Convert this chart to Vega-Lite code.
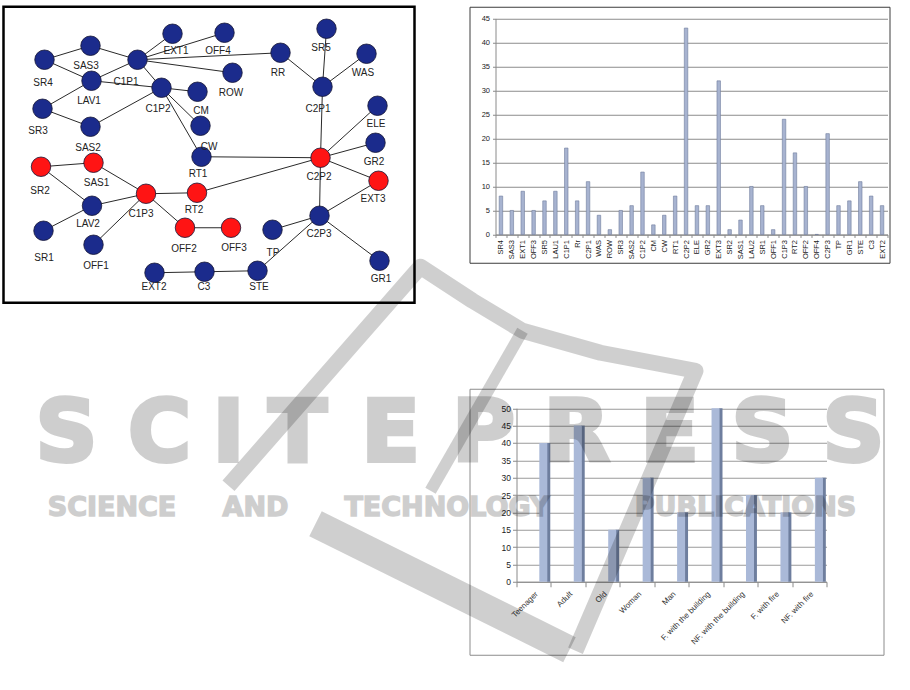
{
  "$schema": "https://vega.github.io/schema/vega-lite/v6.json",
  "background": "white",
  "padding": {"left": 1.5, "top": 4.75, "right": 0, "bottom": 0},
  "bounds": "flush",
  "spacing": 55,
  "config": {
    "font": "Liberation Sans",
    "view": {"stroke": null},
    "axis": {"labelFont": "Liberation Sans"}
  },
  "datasets": {
    "nodes": [
      {"id": "SR4", "x": 41, "y": 53, "lx": 39.5, "ly": 76, "route": "other"},
      {"id": "SAS3", "x": 87, "y": 39, "lx": 82.5, "ly": 59, "route": "other"},
      {"id": "C1P1", "x": 134, "y": 53, "lx": 122.5, "ly": 75, "route": "other"},
      {"id": "EXT1", "x": 169, "y": 27, "lx": 172.5, "ly": 44, "route": "other"},
      {"id": "OFF4", "x": 221, "y": 26, "lx": 214.5, "ly": 44, "route": "other"},
      {"id": "RR", "x": 277, "y": 46, "lx": 274.5, "ly": 66, "route": "other"},
      {"id": "SR5", "x": 323, "y": 22, "lx": 317.5, "ly": 41, "route": "other"},
      {"id": "WAS", "x": 363, "y": 47, "lx": 359.5, "ly": 66, "route": "other"},
      {"id": "C2P1", "x": 319, "y": 80, "lx": 314.5, "ly": 102, "route": "other"},
      {"id": "ROW", "x": 229, "y": 66, "lx": 227.5, "ly": 86, "route": "other"},
      {"id": "LAV1", "x": 88, "y": 74, "lx": 85.5, "ly": 94, "route": "other"},
      {"id": "C1P2", "x": 158, "y": 81, "lx": 154.5, "ly": 102, "route": "other"},
      {"id": "CM", "x": 194, "y": 85, "lx": 197.5, "ly": 104, "route": "other"},
      {"id": "SR3", "x": 39, "y": 102, "lx": 34.5, "ly": 124, "route": "other"},
      {"id": "SAS2", "x": 87, "y": 120, "lx": 84.5, "ly": 141, "route": "other"},
      {"id": "CW", "x": 197, "y": 119, "lx": 205.5, "ly": 140, "route": "other"},
      {"id": "ELE", "x": 374, "y": 99, "lx": 372.5, "ly": 117, "route": "other"},
      {"id": "GR2", "x": 372, "y": 136, "lx": 370.5, "ly": 155, "route": "other"},
      {"id": "RT1", "x": 198, "y": 150, "lx": 194.5, "ly": 167, "route": "other"},
      {"id": "C2P2", "x": 317, "y": 151, "lx": 315.5, "ly": 170, "route": "evacuation"},
      {"id": "EXT3", "x": 375, "y": 174, "lx": 369.5, "ly": 192, "route": "evacuation"},
      {"id": "SR2", "x": 37.5, "y": 160, "lx": 36.5, "ly": 184, "route": "evacuation"},
      {"id": "SAS1", "x": 90, "y": 156, "lx": 93, "ly": 176, "route": "evacuation"},
      {"id": "C1P3", "x": 142.5, "y": 187, "lx": 137.5, "ly": 207, "route": "evacuation"},
      {"id": "RT2", "x": 193.5, "y": 186, "lx": 190.5, "ly": 203, "route": "evacuation"},
      {"id": "LAV2", "x": 88.5, "y": 199, "lx": 84.5, "ly": 217, "route": "other"},
      {"id": "OFF2", "x": 181.5, "y": 221, "lx": 180.5, "ly": 242, "route": "evacuation"},
      {"id": "OFF3", "x": 227.5, "y": 221, "lx": 230.5, "ly": 241, "route": "evacuation"},
      {"id": "C2P3", "x": 316, "y": 209, "lx": 315.5, "ly": 227, "route": "other"},
      {"id": "TP", "x": 269, "y": 223, "lx": 269.5, "ly": 246, "route": "other"},
      {"id": "SR1", "x": 40, "y": 224, "lx": 40.5, "ly": 251, "route": "other"},
      {"id": "OFF1", "x": 90, "y": 238, "lx": 92.5, "ly": 259, "route": "other"},
      {"id": "GR1", "x": 376, "y": 254, "lx": 377.5, "ly": 272, "route": "other"},
      {"id": "EXT2", "x": 151, "y": 266, "lx": 150.5, "ly": 280, "route": "other"},
      {"id": "C3", "x": 201, "y": 265, "lx": 200.5, "ly": 280, "route": "other"},
      {"id": "STE", "x": 254, "y": 264, "lx": 255.5, "ly": 280, "route": "other"}
    ],
    "edges": [
      {"a": "SR4", "b": "SAS3"}, {"a": "SAS3", "b": "C1P1"}, {"a": "SR4", "b": "LAV1"},
      {"a": "C1P1", "b": "LAV1"}, {"a": "C1P1", "b": "EXT1"}, {"a": "C1P1", "b": "OFF4"},
      {"a": "C1P1", "b": "RR"}, {"a": "C1P1", "b": "ROW"}, {"a": "C1P1", "b": "C1P2"},
      {"a": "LAV1", "b": "C1P2"}, {"a": "LAV1", "b": "SR3"}, {"a": "SR3", "b": "SAS2"},
      {"a": "SAS2", "b": "C1P2"}, {"a": "C1P2", "b": "CM"}, {"a": "C1P2", "b": "CW"},
      {"a": "C1P2", "b": "RT1"}, {"a": "RT1", "b": "C2P2"}, {"a": "RR", "b": "C2P1"},
      {"a": "SR5", "b": "C2P1"}, {"a": "WAS", "b": "C2P1"}, {"a": "C2P1", "b": "C2P2"},
      {"a": "C2P2", "b": "ELE"}, {"a": "C2P2", "b": "GR2"}, {"a": "C2P2", "b": "EXT3"},
      {"a": "C2P2", "b": "RT2"}, {"a": "C2P2", "b": "C2P3"}, {"a": "EXT3", "b": "C2P3"},
      {"a": "C2P3", "b": "TP"}, {"a": "C2P3", "b": "GR1"}, {"a": "C2P3", "b": "STE"},
      {"a": "STE", "b": "C3"}, {"a": "C3", "b": "EXT2"}, {"a": "SR2", "b": "SAS1"},
      {"a": "SR2", "b": "LAV2"}, {"a": "SAS1", "b": "C1P3"}, {"a": "LAV2", "b": "C1P3"},
      {"a": "SR1", "b": "LAV2"}, {"a": "OFF1", "b": "C1P3"}, {"a": "C1P3", "b": "RT2"},
      {"a": "C1P3", "b": "OFF2"}, {"a": "OFF2", "b": "OFF3"}
    ],
    "logo": [
      {"part": "outline", "i": 0, "x": -241, "y": 97}, {"part": "outline", "i": 1, "x": -49, "y": -122},
      {"part": "outline", "i": 2, "x": 3, "y": -88}, {"part": "outline", "i": 3, "x": 53, "y": -58},
      {"part": "outline", "i": 4, "x": 131, "y": -36}, {"part": "outline", "i": 5, "x": 226, "y": -18},
      {"part": "outline", "i": 6, "x": 106, "y": 262},
      {"part": "vein", "i": 0, "x": 53, "y": -58}, {"part": "vein", "i": 1, "x": -39, "y": 102},
      {"part": "arm", "i": 0, "x": -154, "y": 135}, {"part": "arm", "i": 1, "x": 100, "y": 261}
    ],
    "letters": [
      {"ch": "S", "x": -403, "y": 72}, {"ch": "C", "x": -310, "y": 72},
      {"ch": "I", "x": -241, "y": 72}, {"ch": "T", "x": -172, "y": 72},
      {"ch": "E", "x": -79, "y": 72}, {"ch": "P", "x": 14, "y": 72},
      {"ch": "R", "x": 107, "y": 72}, {"ch": "E", "x": 200, "y": 72},
      {"ch": "S", "x": 293, "y": 72}, {"ch": "S", "x": 384, "y": 72}
    ],
    "words": [
      {"w": "SCIENCE", "x": -357.5, "y": 127}, {"w": "AND", "x": -214, "y": 127},
      {"w": "TECHNOLOGY", "x": -22.5, "y": 127}, {"w": "PUBLICATIONS", "x": 276, "y": 127}
    ],
    "degree": [
      {"node": "SR4", "links": 8}, {"node": "SAS3", "links": 5}, {"node": "EXT1", "links": 9},
      {"node": "OFF3", "links": 5}, {"node": "SR5", "links": 7}, {"node": "LAU1", "links": 9},
      {"node": "C1P1", "links": 18}, {"node": "Rr", "links": 7}, {"node": "C2P1", "links": 11},
      {"node": "WAS", "links": 4}, {"node": "ROW", "links": 1}, {"node": "SR3", "links": 5},
      {"node": "SAS2", "links": 6}, {"node": "C1P2", "links": 13}, {"node": "CM", "links": 2},
      {"node": "CW", "links": 4}, {"node": "RT1", "links": 8}, {"node": "C2P2", "links": 43},
      {"node": "ELE", "links": 6}, {"node": "GR2", "links": 6}, {"node": "EXT3", "links": 32},
      {"node": "SR2", "links": 1}, {"node": "SAS1", "links": 3}, {"node": "LAU2", "links": 10},
      {"node": "SR1", "links": 6}, {"node": "OFF1", "links": 1}, {"node": "C1P3", "links": 24},
      {"node": "RT2", "links": 17}, {"node": "OFF2", "links": 10}, {"node": "OFF4", "links": 0},
      {"node": "C2P3", "links": 21}, {"node": "TP", "links": 6}, {"node": "GR1", "links": 7},
      {"node": "STE", "links": 11}, {"node": "C3", "links": 8}, {"node": "EXT2", "links": 6}
    ],
    "evac": [
      {"category": "Teenager", "value": 40}, {"category": "Adult", "value": 45},
      {"category": "Old", "value": 15}, {"category": "Woman", "value": 30},
      {"category": "Man", "value": 20}, {"category": "F. with the building", "value": 50},
      {"category": "NF. with the building", "value": 25}, {"category": "F. with fire", "value": 20},
      {"category": "NF. with fire", "value": 30}
    ]
  },
  "hconcat": [
    {
      "width": 411,
      "height": 296,
      "view": {"stroke": "#000000", "strokeWidth": 2.5},
      "layer": [
        {
          "data": {"name": "edges"},
          "transform": [
            {"lookup": "a", "from": {"data": {"name": "nodes"}, "key": "id", "fields": ["x", "y"]}, "as": ["ax", "ay"]},
            {"lookup": "b", "from": {"data": {"name": "nodes"}, "key": "id", "fields": ["x", "y"]}, "as": ["bx", "by"]}
          ],
          "mark": {"type": "rule", "color": "#2a2a2a", "strokeWidth": 1},
          "encoding": {
            "x": {"field": "ax", "type": "quantitative", "scale": {"domain": [0, 411], "nice": false, "zero": false}, "axis": null},
            "y": {"field": "ay", "type": "quantitative", "scale": {"domain": [0, 296], "nice": false, "zero": false, "reverse": true}, "axis": null},
            "x2": {"field": "bx"},
            "y2": {"field": "by"}
          }
        },
        {
          "data": {"name": "nodes"},
          "mark": {"type": "point", "filled": true, "size": 380, "opacity": 1, "stroke": "#141433", "strokeWidth": 0.8},
          "encoding": {
            "x": {"field": "x", "type": "quantitative", "scale": {"domain": [0, 411], "nice": false, "zero": false}, "axis": null},
            "y": {"field": "y", "type": "quantitative", "scale": {"domain": [0, 296], "nice": false, "zero": false, "reverse": true}, "axis": null},
            "color": {"field": "route", "type": "nominal", "scale": {"domain": ["other", "evacuation"], "range": ["#1b2b8c", "#ff1414"]}, "legend": null}
          }
        },
        {
          "data": {"name": "nodes"},
          "mark": {"type": "text", "fontSize": 10, "color": "#222222", "font": "Liberation Sans", "align": "center", "baseline": "middle"},
          "encoding": {
            "x": {"field": "lx", "type": "quantitative", "scale": {"domain": [0, 411], "nice": false, "zero": false}, "axis": null},
            "y": {"field": "ly", "type": "quantitative", "scale": {"domain": [0, 296], "nice": false, "zero": false, "reverse": true}, "axis": null},
            "text": {"field": "id"}
          }
        }
      ]
    },
    {
      "bounds": "flush",
      "spacing": 126,
      "vconcat": [
        {
          "width": 420,
          "height": 256,
          "view": {"stroke": "#3c3c3c", "strokeWidth": 1},
          "data": {"name": "degree"},
          "mark": {"type": "bar", "size": 3.5, "color": "#a7b3d0", "stroke": "#6f7c9c", "strokeWidth": 0.6},
          "encoding": {
            "x": {
              "field": "node", "type": "nominal", "sort": null,
              "scale": {"range": [26, 418], "paddingInner": 0, "paddingOuter": 0},
              "axis": {"title": null, "orient": "bottom", "offset": -28.3, "labelAngle": -90, "labelFontSize": 7.5, "labelColor": "#222222", "labelPadding": 2, "tickBand": "extent", "tickSize": 3, "tickColor": "#8a8a8a", "domainColor": "#8a8a8a", "grid": false}
            },
            "y": {
              "field": "links", "type": "quantitative",
              "scale": {"domain": [0, 45], "range": [227.7, 11.7], "nice": false, "zero": true},
              "axis": {"title": null, "orient": "left", "offset": -26, "values": [0, 5, 10, 15, 20, 25, 30, 35, 40, 45], "labelFontSize": 7.5, "labelColor": "#222222", "labelPadding": 3, "tickSize": 3, "tickColor": "#8a8a8a", "domainColor": "#8a8a8a", "grid": true, "gridColor": "#8c8c8c", "gridWidth": 1}
            }
          }
        },
        {
          "width": 414,
          "height": 266,
          "view": {"stroke": "#8c8c8c", "strokeWidth": 1},
          "resolve": {"scale": {"x": "independent", "y": "independent"}},
          "layer": [
            {
              "data": {"name": "evac"},
              "encoding": {
                "x": {
                  "field": "category", "type": "nominal", "sort": null,
                  "scale": {"range": [47, 357], "paddingInner": 0, "paddingOuter": 0},
                  "axis": {"title": null, "orient": "bottom", "offset": -73, "labelAngle": -45, "labelFontSize": 8, "labelColor": "#333333", "labelPadding": 3, "tickBand": "extent", "tickSize": 5, "tickColor": "#8a8a8a", "domainColor": "#8a8a8a", "grid": false}
                },
                "y": {
                  "field": "value", "type": "quantitative",
                  "scale": {"domain": [0, 50], "range": [193, 19.5], "nice": false, "zero": true},
                  "axis": {"title": null, "orient": "left", "offset": -47, "values": [0, 5, 10, 15, 20, 25, 30, 35, 40, 45, 50], "labelFontSize": 8.5, "labelColor": "#222222", "labelPadding": 2, "tickSize": 4, "tickColor": "#8a8a8a", "domainColor": "#8a8a8a", "grid": true, "gridColor": "#9a9a9a", "gridWidth": 1}
                }
              },
              "layer": [
                {"mark": {"type": "bar", "size": 3.5, "color": "#6e7e9e", "xOffset": 14.8}},
                {"mark": {"type": "bar", "size": 8, "color": "#aab9d8", "xOffset": 9.6}}
              ]
            },
            {
              "layer": [
                {
                  "data": {"name": "logo"},
                  "transform": [{"filter": "datum.part == 'outline'"}],
                  "mark": {"type": "line", "color": "#000000", "opacity": 0.19, "strokeWidth": 16, "strokeCap": "butt", "strokeJoin": "round"},
                  "encoding": {
                    "x": {"field": "x", "type": "quantitative", "scale": {"domain": [0, 414], "nice": false, "zero": false}, "axis": null},
                    "y": {"field": "y", "type": "quantitative", "scale": {"domain": [0, 266], "nice": false, "zero": false, "reverse": true}, "axis": null},
                    "order": {"field": "i"}
                  }
                },
                {
                  "data": {"name": "logo"},
                  "transform": [{"filter": "datum.part == 'vein'"}],
                  "mark": {"type": "line", "color": "#000000", "opacity": 0.19, "strokeWidth": 12, "strokeCap": "butt"},
                  "encoding": {
                    "x": {"field": "x", "type": "quantitative", "scale": {"domain": [0, 414], "nice": false, "zero": false}, "axis": null},
                    "y": {"field": "y", "type": "quantitative", "scale": {"domain": [0, 266], "nice": false, "zero": false, "reverse": true}, "axis": null},
                    "order": {"field": "i"}
                  }
                },
                {
                  "data": {"name": "logo"},
                  "transform": [{"filter": "datum.part == 'arm'"}],
                  "mark": {"type": "line", "color": "#000000", "opacity": 0.19, "strokeWidth": 28, "strokeCap": "butt"},
                  "encoding": {
                    "x": {"field": "x", "type": "quantitative", "scale": {"domain": [0, 414], "nice": false, "zero": false}, "axis": null},
                    "y": {"field": "y", "type": "quantitative", "scale": {"domain": [0, 266], "nice": false, "zero": false, "reverse": true}, "axis": null},
                    "order": {"field": "i"}
                  }
                },
                {
                  "data": {"name": "letters"},
                  "mark": {"type": "text", "font": "DejaVu Sans", "fontWeight": "bold", "fontSize": 86, "color": "#000000", "opacity": 0.19, "stroke": "#000000", "strokeWidth": 4, "align": "center", "baseline": "alphabetic"},
                  "encoding": {
                    "x": {"field": "x", "type": "quantitative", "scale": {"domain": [0, 414], "nice": false, "zero": false}, "axis": null},
                    "y": {"field": "y", "type": "quantitative", "scale": {"domain": [0, 266], "nice": false, "zero": false, "reverse": true}, "axis": null},
                    "text": {"field": "ch"}
                  }
                },
                {
                  "data": {"name": "words"},
                  "mark": {"type": "text", "font": "DejaVu Sans", "fontWeight": "bold", "fontSize": 27, "color": "#000000", "opacity": 0.19, "stroke": "#000000", "strokeWidth": 1.5, "align": "center", "baseline": "alphabetic"},
                  "encoding": {
                    "x": {"field": "x", "type": "quantitative", "scale": {"domain": [0, 414], "nice": false, "zero": false}, "axis": null},
                    "y": {"field": "y", "type": "quantitative", "scale": {"domain": [0, 266], "nice": false, "zero": false, "reverse": true}, "axis": null},
                    "text": {"field": "w"}
                  }
                }
              ]
            }
          ]
        }
      ]
    }
  ]
}
